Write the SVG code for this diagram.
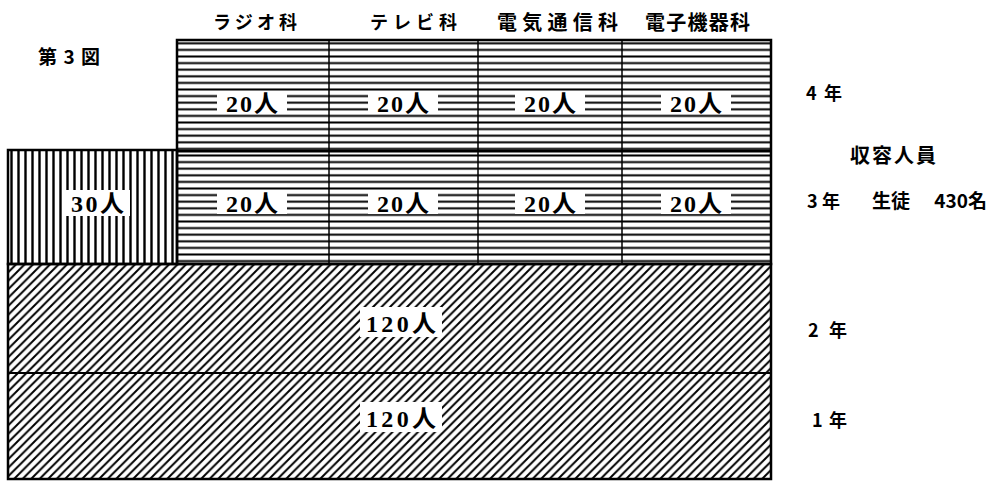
<svg xmlns="http://www.w3.org/2000/svg" width="998" height="481" viewBox="0 0 998 481">
<defs>
<pattern id="hst" patternUnits="userSpaceOnUse" x="0" y="40" width="20" height="6.6">
<line x1="0" y1="3.3" x2="20" y2="3.3" stroke="#000" stroke-width="2"/>
</pattern>
<pattern id="vst" patternUnits="userSpaceOnUse" x="8" y="0" width="7" height="20">
<line x1="3.5" y1="0" x2="3.5" y2="20" stroke="#000" stroke-width="2.4"/>
</pattern>
<pattern id="dia" patternUnits="userSpaceOnUse" x="0" y="0" width="8.5" height="8.5">
<path d="M-1,9.5 L9.5,-1 M-2,2 L2,-2 M6.5,10.5 L10.5,6.5" stroke="#000" stroke-width="2"/>
</pattern>
<style>
.t{font-family:"Noto Sans CJK JP","Noto Sans CJK SC",sans-serif;font-weight:bold;fill:#000;}
.n{font-family:"Liberation Serif","Noto Sans CJK JP",serif;font-weight:bold;fill:#000;}
.b{fill:none;stroke:#000;}
.w{fill:#fff;}
</style>
</defs>

<g id="fills">
<rect x="177" y="40" width="594" height="224" fill="url(#hst)"/>
<rect x="8" y="150" width="169" height="114" fill="url(#vst)"/>
<rect x="8" y="264" width="763" height="216" fill="url(#dia)"/>
</g>

<g id="frame">
<rect class="b" x="177" y="40" width="594" height="224" stroke-width="2.5"/>
<rect class="b" x="8" y="150" width="169" height="114" stroke-width="2.5"/>
<rect class="b" x="8" y="264" width="763" height="215" stroke-width="2.5"/>
<line class="b" x1="177" y1="151" x2="771" y2="151" stroke-width="3"/>
<line class="b" x1="8" y1="373" x2="771" y2="373" stroke-width="2"/>
<line class="b" x1="329" y1="40" x2="329" y2="264" stroke-width="1.5"/>
<line class="b" x1="478" y1="40" x2="478" y2="264" stroke-width="1.5"/>
<line class="b" x1="622" y1="40" x2="622" y2="264" stroke-width="1.5"/>
</g>

<g id="cell-radio-4">
<rect class="w" x="217" y="91" width="70" height="23"/>
<text class="n" x="226" y="112" font-size="24" textLength="52" lengthAdjust="spacing">20人</text>
</g>
<g id="cell-tv-4">
<rect class="w" x="368" y="91" width="70" height="23"/>
<text class="n" x="377" y="112" font-size="24" textLength="52" lengthAdjust="spacing">20人</text>
</g>
<g id="cell-denki-4">
<rect class="w" x="515" y="91" width="70" height="23"/>
<text class="n" x="524" y="112" font-size="24" textLength="52" lengthAdjust="spacing">20人</text>
</g>
<g id="cell-denshi-4">
<rect class="w" x="661" y="91" width="70" height="23"/>
<text class="n" x="670" y="112" font-size="24" textLength="52" lengthAdjust="spacing">20人</text>
</g>

<g id="cell-radio-3">
<rect class="w" x="217" y="191" width="70" height="23"/>
<text class="n" x="226" y="212" font-size="24" textLength="52" lengthAdjust="spacing">20人</text>
</g>
<g id="cell-tv-3">
<rect class="w" x="368" y="191" width="70" height="23"/>
<text class="n" x="377" y="212" font-size="24" textLength="52" lengthAdjust="spacing">20人</text>
</g>
<g id="cell-denki-3">
<rect class="w" x="515" y="191" width="70" height="23"/>
<text class="n" x="524" y="212" font-size="24" textLength="52" lengthAdjust="spacing">20人</text>
</g>
<g id="cell-denshi-3">
<rect class="w" x="661" y="191" width="70" height="23"/>
<text class="n" x="670" y="212" font-size="24" textLength="52" lengthAdjust="spacing">20人</text>
</g>

<g id="cell-30">
<rect class="w" x="63" y="190" width="67" height="26"/>
<text class="n" x="71" y="212" font-size="24" textLength="53" lengthAdjust="spacing">30人</text>
</g>

<g id="cell-2nen">
<rect class="w" x="360" y="307" width="82" height="30"/>
<text class="n" x="366" y="332" font-size="24" textLength="70" lengthAdjust="spacing">120人</text>
</g>
<g id="cell-1nen">
<rect class="w" x="360" y="402" width="82" height="30"/>
<text class="n" x="366" y="427" font-size="24" textLength="70" lengthAdjust="spacing">120人</text>
</g>

<g id="labels">
<text class="t" x="38" y="64" font-size="19" textLength="62" lengthAdjust="spacing">第3図</text>
<text class="t" x="213" y="29" font-size="18" textLength="84" lengthAdjust="spacing">ラジオ科</text>
<text class="t" x="370" y="29" font-size="18" textLength="87" lengthAdjust="spacing">テレビ科</text>
<text class="t" x="497" y="30" font-size="20" textLength="121" lengthAdjust="spacing">電気通信科</text>
<text class="t" x="645" y="30" font-size="20" textLength="105" lengthAdjust="spacing">電子機器科</text>
<text class="t" x="806" y="100" font-size="18" textLength="36" lengthAdjust="spacing">4年</text>
<text class="t" x="850" y="163" font-size="20" textLength="86" lengthAdjust="spacing">収容人員</text>
<text class="t" x="807" y="208" font-size="18" textLength="33" lengthAdjust="spacing">3年</text>
<text class="t" y="208" font-size="19"><tspan x="872">生徒</tspan><tspan x="930"> 430名</tspan></text>
<text class="t" x="808" y="337" font-size="18" textLength="39" lengthAdjust="spacing">2年</text>
<text class="t" x="812" y="427" font-size="18" textLength="35" lengthAdjust="spacing">1年</text>
</g>
</svg>
